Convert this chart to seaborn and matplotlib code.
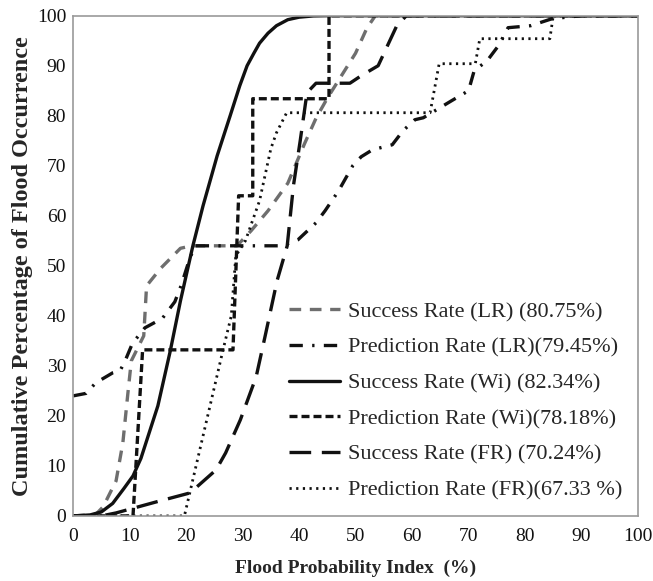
import matplotlib
matplotlib.use("Agg")
import matplotlib.pyplot as plt
import seaborn as sns

# curves (x = flood probability index %, y = cumulative %)
lr_success_x = [0, 4, 5.3, 7.6, 8.8, 9.7, 10.3, 12.5, 13, 15.5, 19, 21, 29, 31.5, 34.5, 38, 41, 43, 45, 47.5, 50, 52, 53.5, 100]
lr_success_y = [0, 0.3, 1.8, 7, 14.6, 24.6, 31, 36, 46, 49.5, 53.5, 54, 54, 57, 61, 66.5, 74.5, 79.5, 83.5, 88, 92.5, 97.5, 100, 100]

lr_pred_x = [0, 2.3, 4, 7, 8.3, 9.2, 10.5, 12.7, 15.8, 18, 19.1, 20.4, 21.5, 37, 39.8, 43, 44.6, 47, 49.5, 51, 53, 56.5, 58.4, 60.5, 62, 67, 70, 71, 73.3, 75.3, 77, 81, 84.8, 90, 100]
lr_pred_y = [24, 24.5, 26.6, 28.6, 29, 31, 34.5, 37.6, 39.5, 42.8, 46, 50.6, 54, 54, 55.2, 58.6, 61, 65, 70, 71.8, 73.2, 74.2, 77, 79.2, 79.6, 83, 85, 89, 91, 94, 97.6, 98, 99.4, 100, 100]

wi_success_x = [0, 3, 5, 7, 9, 10.6, 12, 13, 15, 17.2, 19, 21.2, 23, 25.5, 27.8, 29.5, 30.8, 32, 33, 34.5, 36, 38, 40, 42.5, 45, 100]
wi_success_y = [0, 0.2, 0.8, 2.5, 5.5, 8, 11.5, 15, 22, 33, 43, 54, 62, 72, 80, 86, 90, 92.5, 94.5, 96.5, 98, 99.2, 99.7, 99.95, 100, 100]

wi_pred_x = [0, 10.6, 12.3, 28.3, 29.3, 31.8, 31.8, 45.3, 45.3, 100]
wi_pred_y = [0, 0, 33.2, 33.2, 64, 64, 83.4, 83.4, 100, 100]

fr_success_x = [0, 5, 7.6, 14.7, 20.7, 25.3, 27, 29.6, 32.4, 34, 36.1, 37.9, 39, 40.2, 41.4, 43, 49, 51, 54, 57.3, 59, 100]
fr_success_y = [0, 0, 0.6, 2.8, 4.6, 9.2, 12.6, 19.2, 27.8, 36, 47, 54, 66, 75, 84.6, 86.5, 86.5, 88, 90, 98, 100, 100]

fr_pred_x = [0, 19.7, 26.5, 28, 28.8, 30.5, 33, 35, 36, 37.8, 63.2, 64.8, 71.2, 72, 84.4, 85, 100]
fr_pred_y = [0, 0, 33, 40, 52, 55, 63, 73.4, 76.6, 80.6, 80.6, 90.4, 90.4, 95.4, 95.4, 100, 100]

labels = ["Success Rate (LR) (80.75%)", "Prediction Rate (LR)(79.45%)",
          "Success Rate (Wi) (82.34%)", "Prediction Rate (Wi)(78.18%)",
          "Success Rate (FR) (70.24%)", "Prediction Rate (FR)(67.33 %)"]

sns.set_style("white")
plt.rcParams['font.family'] = ['Liberation Serif', 'DejaVu Serif']

fig = plt.figure(figsize=(6.53, 5.81), dpi=100)
ax = fig.add_axes([0.112, 0.112, 0.865, 0.861])

series = [
    (lr_success_x, lr_success_y, '#6e6e6e', 2.4, (0, (3.5, 2.6))),
    (lr_pred_x, lr_pred_y, '#111111', 2.4, (0, (4, 2.8, 0.7, 2.8))),
    (wi_success_x, wi_success_y, '#111111', 2.4, '-'),
    (wi_pred_x, wi_pred_y, '#111111', 2.4, (0, (2.4, 1.2))),
    (fr_success_x, fr_success_y, '#111111', 2.4, (0, (6.5, 3.2))),
    (fr_pred_x, fr_pred_y, '#111111', 2.0, (0, (0.8, 1.6))),
]
for (xs, ys, col, lw, ls), lab in zip(series, labels):
    sns.lineplot(x=xs, y=ys, estimator=None, sort=False, color=col, lw=lw,
                 linestyle=ls, label=lab, ax=ax)

ax.set_xlim(0, 100)
ax.set_ylim(0, 100)
ax.set_xticks(range(0, 101, 10))
ax.set_yticks(range(0, 101, 10))
ax.tick_params(axis='x', labelsize=14, length=0, pad=9, colors='#111111')
ax.tick_params(axis='y', labelsize=14, length=0, pad=5, colors='#111111')
for s in ax.spines.values():
    s.set_color('#9a9a9a')
    s.set_linewidth(1.2)

ax.set_xlabel("Flood Probability Index  (%)", fontsize=14, fontweight='bold', labelpad=10)
ax.set_ylabel("Cumulative Percentage of Flood Occurrence", fontsize=17.5, fontweight='bold', labelpad=3)

ax.legend(loc='lower right', bbox_to_anchor=(1.0, 0.0), frameon=False, fontsize=16,
          handlelength=2.3, handletextpad=0.35, labelspacing=0.68, borderaxespad=0.3)

fig.savefig("out.png", dpi=100)
